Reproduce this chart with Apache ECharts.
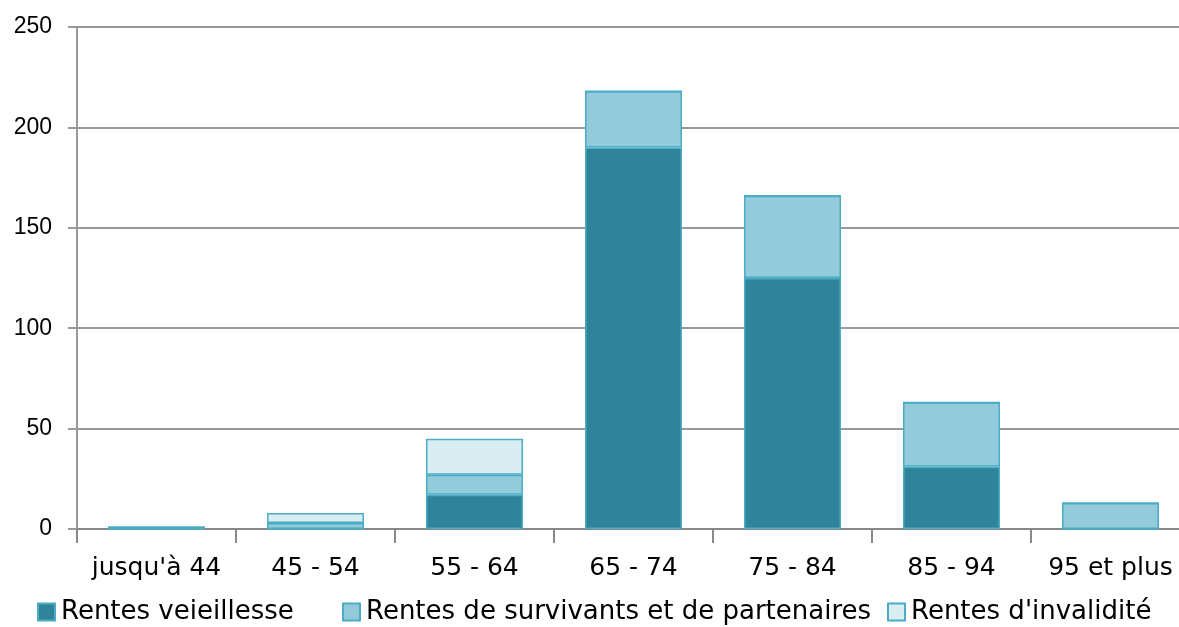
<!DOCTYPE html>
<html><head><meta charset="utf-8">
<script src="https://cdn.jsdelivr.net/npm/echarts@6/dist/echarts.min.js"></script>
<style>html,body{margin:0;padding:0;background:#fff;overflow:hidden;width:1179px;height:627px}#c{width:1190px;height:627px}</style>
</head><body><div id="c"></div>
<script>
const categories = ["jusqu'à 44", "45 - 54", "55 - 64", "65 - 74", "75 - 84", "85 - 94", "95 et plus"];
const vieillesse = [0, 0, 17, 190, 125, 31, 0];
const survivants = [1, 3, 10, 28, 41, 32, 13];
const invalidite = [0, 5, 18, 0, 0, 0, 0];
const seriesNames = ["Rentes veieillesse", "Rentes de survivants et de partenaires", "Rentes d'invalidité"];
const yTicks = [0, 50, 100, 150, 200, 250];

const font = "'DejaVu Sans', sans-serif";
const border = '#4BACC6';
const mk = (name, data, color) => ({
  name, type: 'bar', stack: 'a', data, barWidth: '61%',
  itemStyle: { color, borderColor: border, borderWidth: 1.5 }
});
const legendText = { fontFamily: font, fontSize: 26, color: '#000', padding: [0, 0, 0, 1] };
const legendLefts = [32, 337, 882];
const chart = echarts.init(document.getElementById('c'));
chart.setOption({
  animation: false,
  grid: { left: 77, right: 0, top: 27, bottom: 98, containLabel: false },
  legend: seriesNames.map((n, i) => ({
    data: [n], left: legendLefts[i], top: 594, itemWidth: 17, itemHeight: 17, icon: 'rect',
    textStyle: legendText
  })),
  xAxis: {
    type: 'category', data: categories,
    axisLine: { lineStyle: { color: '#888', width: 2 } },
    axisTick: { show: true, length: 14, lineStyle: { color: '#888', width: 2 } },
    axisLabel: { fontFamily: font, fontSize: 25, color: '#000', margin: 27, interval: 0 }
  },
  yAxis: {
    type: 'value', min: 0, max: yTicks[yTicks.length - 1], interval: 50,
    axisLine: { show: true, lineStyle: { color: '#999', width: 2 } },
    axisTick: { show: true, length: 9, lineStyle: { color: '#999', width: 2 } },
    splitLine: { lineStyle: { color: '#999', width: 2 } },
    axisLabel: { fontFamily: "'Liberation Sans', sans-serif", fontSize: 23, color: '#000', margin: 25 }
  },
  series: [
    mk(seriesNames[0], vieillesse, '#2F8499'),
    mk(seriesNames[1], survivants, '#93CBDB'),
    mk(seriesNames[2], invalidite, '#DAEDF3')
  ]
});
</script></body></html>
